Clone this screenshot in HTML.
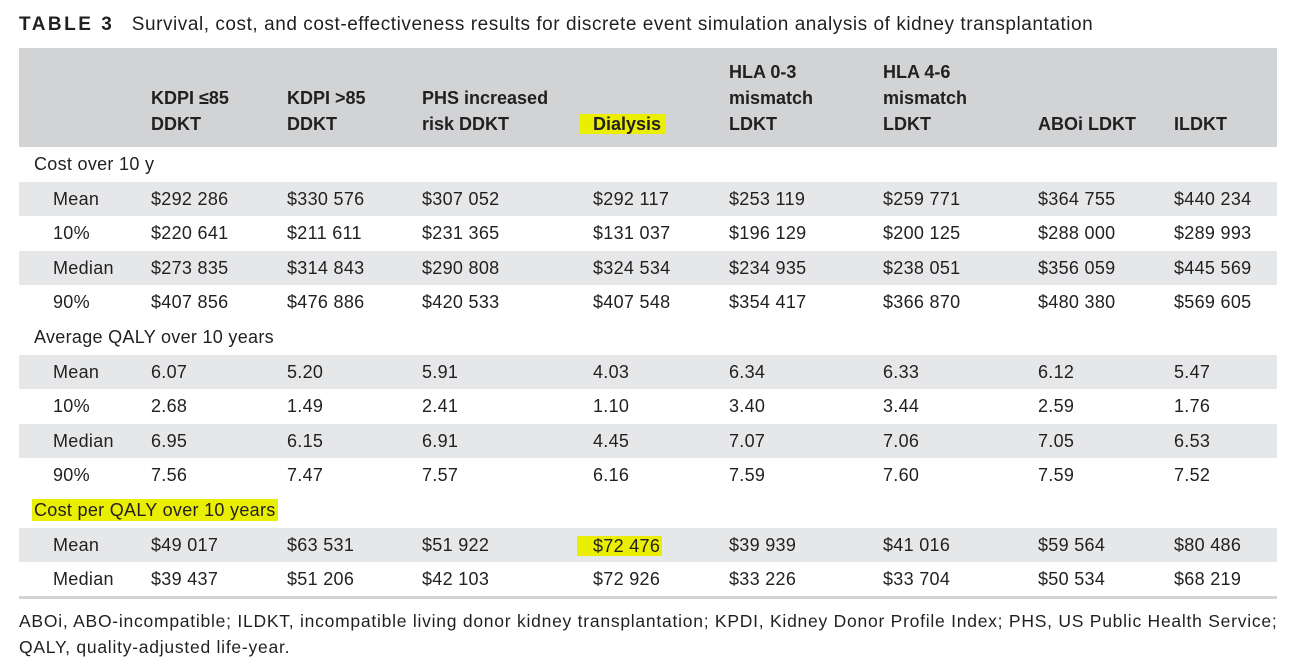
<!DOCTYPE html>
<html><head><meta charset="utf-8"><style>
body{margin:0;width:1292px;height:670px;background:#fff;position:relative;font-family:"Liberation Sans",sans-serif;color:#231f20;overflow:hidden}
.a{position:absolute;white-space:nowrap}
.t{font-size:18px;line-height:34.6px;letter-spacing:0.3px}
.h{font-size:18px;font-weight:bold;line-height:26px}
.hl{background:#eaee00}
</style></head><body>
<div class="a" style="left:19px;top:12px;font-size:19px;line-height:26px;letter-spacing:0.55px"><b style="letter-spacing:2.5px">TABLE 3</b>&nbsp;&nbsp; Survival, cost, and cost-effectiveness results for discrete event simulation analysis of kidney transplantation</div>
<div class="a" style="left:19px;top:48px;width:1258px;height:99px;background:#d1d3d4"></div>
<div id="rows"></div>
<div class="a" style="left:19px;top:596px;width:1258px;height:3px;background:#d1d3d4"></div>
<div class="a" style="left:19px;top:608px;font-size:17.5px;line-height:26px;letter-spacing:0.75px">ABOi, ABO-incompatible; ILDKT, incompatible living donor kidney transplantation; KPDI, Kidney Donor Profile Index; PHS, US Public Health Service;<br>QALY, quality-adjusted life-year.</div>
<script>
const colX=[151,287,422,593,729,883,1038,1174];
const headers=[["","KDPI ≤85","DDKT"],["","KDPI >85","DDKT"],["","PHS increased","risk DDKT"],["","","Dialysis"],["HLA 0-3","mismatch","LDKT"],["HLA 4-6","mismatch","LDKT"],["","","ABOi LDKT"],["","","ILDKT"]];
const sections=[
 ["Cost over 10 y",[["Mean",["$292 286","$330 576","$307 052","$292 117","$253 119","$259 771","$364 755","$440 234"]],["10%",["$220 641","$211 611","$231 365","$131 037","$196 129","$200 125","$288 000","$289 993"]],["Median",["$273 835","$314 843","$290 808","$324 534","$234 935","$238 051","$356 059","$445 569"]],["90%",["$407 856","$476 886","$420 533","$407 548","$354 417","$366 870","$480 380","$569 605"]]]],
 ["Average QALY over 10 years",[["Mean",["6.07","5.20","5.91","4.03","6.34","6.33","6.12","5.47"]],["10%",["2.68","1.49","2.41","1.10","3.40","3.44","2.59","1.76"]],["Median",["6.95","6.15","6.91","4.45","7.07","7.06","7.05","6.53"]],["90%",["7.56","7.47","7.57","6.16","7.59","7.60","7.59","7.52"]]]],
 ["Cost per QALY over 10 years",[["Mean",["$49 017","$63 531","$51 922","$72 476","$39 939","$41 016","$59 564","$80 486"]],["Median",["$39 437","$51 206","$42 103","$72 926","$33 226","$33 704","$50 534","$68 219"]]]]
];
const R=document.getElementById('rows');
function mk(cls,x,y,txt){const d=document.createElement('div');d.className='a '+cls;d.style.left=x+'px';d.style.top=y+'px';d.textContent=txt;R.appendChild(d);return d;}
headers.forEach((h,i)=>{h.forEach((line,j)=>{if(!line)return;const d=mk('h',colX[i],59+j*26,line);


if(i===3){d.classList.add('hl');d.style.left=(colX[i]-14)+'px';d.style.padding='0 4px 0 14px';d.style.lineHeight='20px';d.style.top=(62+j*26)+'px';}});});
let y=147;
sections.forEach((s,si)=>{
 const l=mk('t',34,y,s[0]);
 
 
 if(si===2){l.classList.add('hl');l.style.lineHeight='22px';l.style.top=(y+6)+'px';l.style.padding='0 2px';l.style.left='32px';}
 y+=34.6;
 s[1].forEach((r,ri)=>{
  if(ri%2===0){const b=document.createElement('div');b.className='a';b.style.cssText='left:19px;top:'+y+'px;width:1258px;height:34.6px;background:#e6e7e8';
  
  
  R.appendChild(b);}
  const lb=mk('t',53,y,r[0]);
  
  
  r[1].forEach((v,ci)=>{const c=mk('t',colX[ci],y,v);
   
   
   if(si===2&&ri===0&&ci===3){c.classList.add('hl');c.style.lineHeight='20px';c.style.top=(y+8)+'px';c.style.left=(colX[ci]-16)+'px';c.style.padding='0 2px 0 16px';}
  });
  y+=34.6;
 });
});
</script>
</body></html>
